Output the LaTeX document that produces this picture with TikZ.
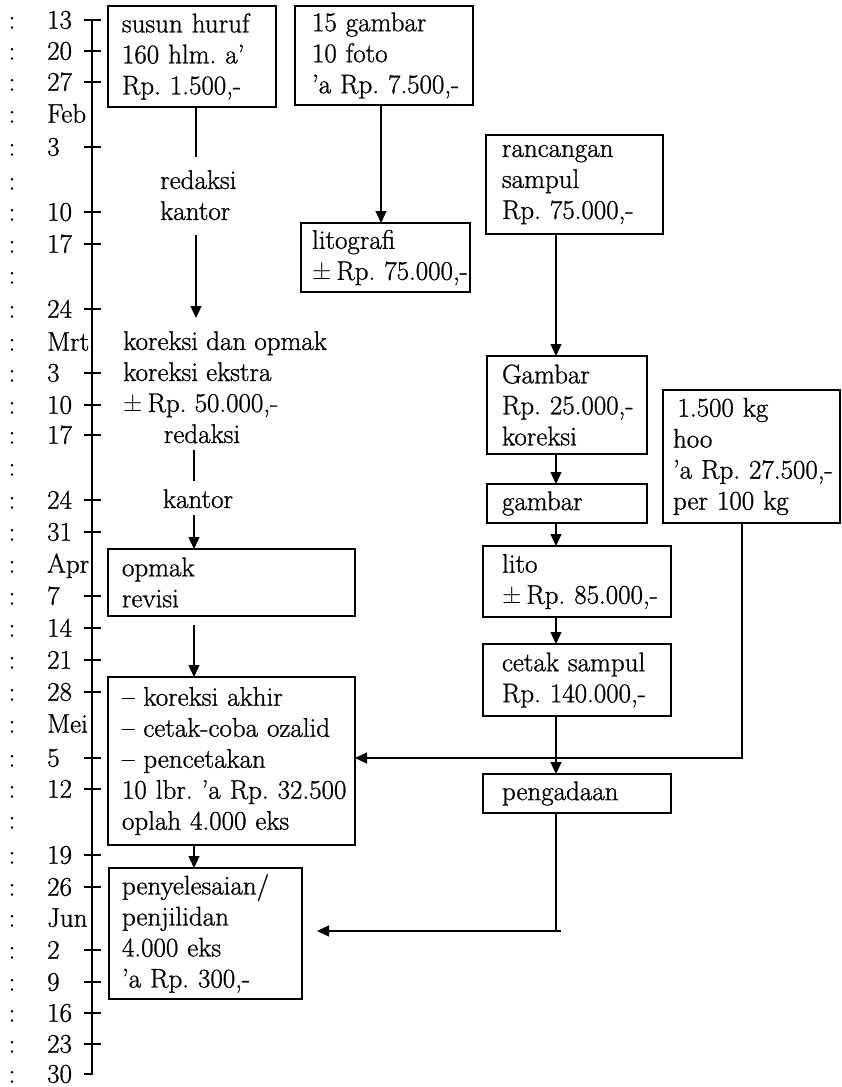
\documentclass[tikz,border=0pt]{standalone}
\usepackage{fontspec}
\setmainfont{Latin Modern Roman}[FakeBold=1.0]
\usetikzlibrary{arrows.meta}
\newcommand{\mbx}[1]{\mbox{#1}}
\newcommand{\pmrp}{$\pm$\hspace{5pt}Rp.}
\frenchspacing
\begin{document}
\frenchspacing
\begin{tikzpicture}[x=1pt,y=-1pt,
  every node/.style={font=\fontsize{27}{31}\selectfont\frenchspacing},
  box/.style={draw, line width=1.8pt, anchor=north west, align=left, inner ysep=2pt, outer sep=0pt},
  free/.style={inner sep=0pt, align=left},
  conn/.style={line width=1.3pt},
  arr/.style={conn, -{Triangle[length=12pt,width=11pt]}},
  tl/.style={line width=1.4pt}]
\useasboundingbox (0,0) rectangle (842,1087);

% ---- time line ----
\draw[tl] (92,20) -- (92,1074);
\foreach \y/\t/\k [count=\i] in {20/13/1,51/20/1,82/27/1,114/Feb/0,147/3/1,181/{}/0,212/10/1,244/17/1,275/{}/0,309/24/1,342/Mrt/0,373/3/1,405/10/1,435/17/1,467/{}/0,500/24/1,532/31/1,564/Apr/0,596/7/1,628/14/1,660/21/1,692/28/1,724/Mei/0,758/5/1,789/12/1,820/{}/0,855/19/1,887/26/1,918/Jun/0,950/2/1,982/9/1,1013/16/1,1044/23/1,1074/30/2}{
  \node[anchor=base, inner sep=0pt] (c\i) at (12,\y+8.7) {:};
  \node[anchor=base west, inner sep=0pt] (d\i) at (47,\y+8.7) {\t};
  \ifnum\k=1 \draw[tl] (84,\y) -- (101,\y); \fi
  \ifnum\k=2 \draw[tl] (84,\y) -- (92.7,\y); \fi
}

% ---- boxes ----
\node[box, inner xsep=14pt, text width=140pt, minimum height=101pt] (b1) at (108,6) {\mbx{susun huruf}\\\mbx{160 hlm. a'}\\\mbx{Rp. 1.500,-}};
\node[box, inner xsep=17pt, text width=144pt, minimum height=99pt] (b2) at (295,6) {\mbx{15 gambar}\\\mbx{10 foto}\\\mbx{'a Rp. 7.500,-}};
\node[box, inner xsep=11pt, text width=147pt, minimum height=69pt] (lito1) at (301,223) {\mbx{litografi}\\\mbx{\pmrp{} 75.000,-}};
\node[box, inner xsep=16pt, text width=145pt, minimum height=99pt] (ranc) at (486,135) {\mbx{rancangan}\\\mbx{sampul}\\\mbx{Rp. 75.000,-}};
\node[box, inner xsep=15pt, text width=130pt, minimum height=98pt] (gam1) at (487,356) {\mbx{Gambar}\\\mbx{Rp. 25.000,-}\\\mbx{koreksi}};
\node[box, inner xsep=15pt, text width=130pt, minimum height=39pt] (gam2) at (487,484) {\mbx{gambar}};
\node[box, inner xsep=10pt, text width=157pt, minimum height=133pt] (hoo) at (663,390) {\mbx{\,1.500 kg}\\\mbx{hoo}\\\mbx{'a Rp. 27.500,-}\\\mbx{per 100 kg}};
\node[box, inner xsep=19pt, text width=150pt, minimum height=71pt] (lito2) at (483,546) {\mbx{lito}\\\mbx{\pmrp{} 85.000,-}};
\node[box, inner xsep=19pt, text width=150pt, minimum height=72pt] (cetak) at (483,644) {\mbx{cetak sampul}\\\mbx{Rp. 140.000,-}};
\node[box, inner xsep=19pt, text width=150pt, minimum height=39pt] (peng) at (483,774) {\mbx{pengadaan}};
\node[box, inner xsep=14pt, text width=219pt, minimum height=67pt] (opmak) at (108,549) {\mbx{opmak}\\\mbx{revisi}};
\node[box, inner xsep=14pt, text width=219pt, minimum height=168pt] (big) at (108,677) {\mbx{-- koreksi akhir}\\\mbx{-- cetak-coba ozalid}\\\mbx{-- pencetakan}\\\mbx{10 lbr. 'a Rp. 32.500}\\\mbx{oplah 4.000 eks}};
\node[box, inner xsep=13pt, text width=167pt, minimum height=131pt] (fin) at (109,868) {\mbx{penyelesaian/}\\\mbx{penjilidan}\\\mbx{4.000 eks}\\\mbx{'a Rp. 300,-}};

% ---- free texts ----
\node[free, anchor=north west] (rk1) at (160,170) {redaksi\\kantor};
\node[free, anchor=north west] (kor) at (123,331) {\mbx{koreksi dan opmak}\\\mbx{koreksi ekstra}\\\mbx{\pmrp{} 50.000,-}};
\node[free, anchor=base] (red2) at (202,443) {redaksi};
\node[free, anchor=base] (kan2) at (198,508) {kantor};

% ---- reference columns ----
\coordinate (bx) at (196,0);
\coordinate (lx) at (194,0);
\coordinate (b2x) at (381,0);
\coordinate (cx) at (556,0);
\coordinate (hx) at (742,0);
\coordinate (j1) at (742,758);
\coordinate (j2) at (556,931);
\coordinate (j2r) at (561,931);

% ---- connectors ----
\draw[conn, shorten >=13pt] (b1.south -| bx) -- (rk1.north -| bx);
\draw[arr, shorten <=15pt, shorten >=13pt] (rk1.south -| bx) -- (kor.north -| bx);
\draw[conn, shorten <=7pt, shorten >=8pt] (red2.south -| lx) -- (kan2.north -| lx);
\draw[arr, shorten <=7pt] (kan2.south -| lx) -- (opmak.north -| lx);
\draw[arr, shorten <=9pt] (opmak.south -| lx) -- (big.north -| lx);
\draw[arr] (big.south -| lx) -- (fin.north -| lx);
\draw[arr] (b2.south -| b2x) -- (lito1.north -| b2x);
\draw[arr] (ranc.south -| cx) -- (gam1.north -| cx);
\draw[arr] (gam1.south -| cx) -- (gam2.north -| cx);
\draw[arr] (gam2.south -| cx) -- (lito2.north -| cx);
\draw[arr] (lito2.south -| cx) -- (cetak.north -| cx);
\draw[arr] (cetak.south -| cx) -- (peng.north -| cx);
\draw[arr] (hoo.south -| hx) -- (j1) -- (j1 -| big.east);
\draw[conn] (peng.south -| cx) -- (j2);
\draw[arr, shorten >=15pt] (j2r) -- (j2r -| fin.east);
\end{tikzpicture}
\end{document}
